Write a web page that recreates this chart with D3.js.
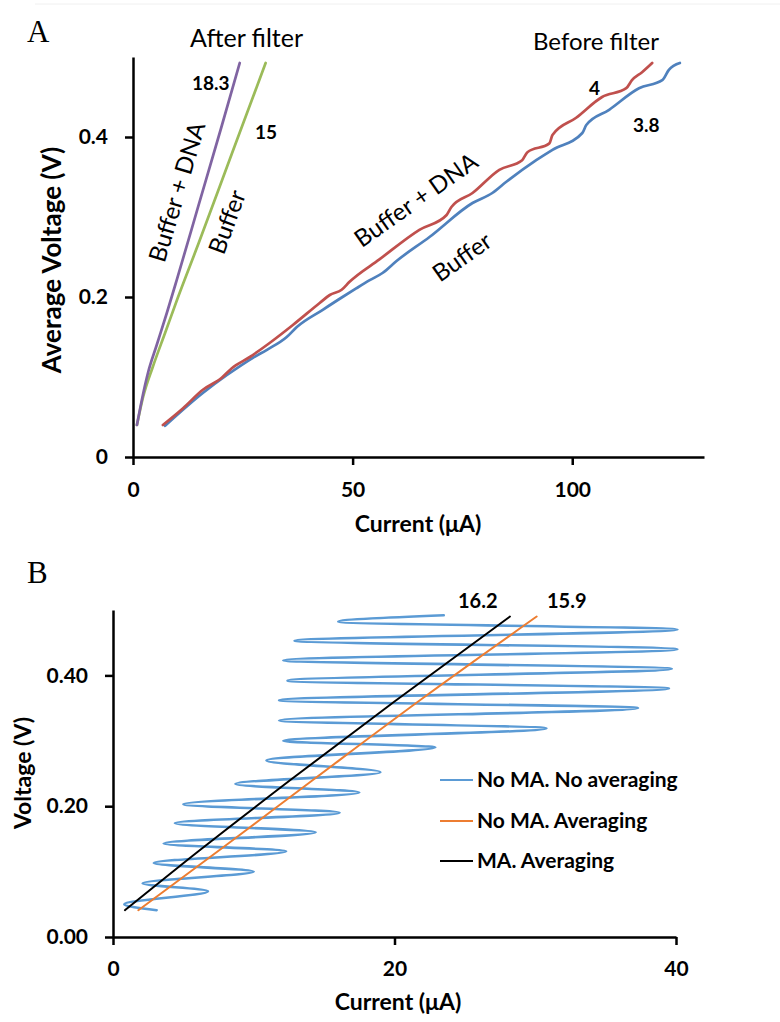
<!DOCTYPE html>
<html>
<head>
<meta charset="utf-8">
<script src="https://cdn.jsdelivr.net/npm/d3@7"></script>
<style>
  body { margin: 0; background: #fff; }
  svg { display: block; }
  text { font-family: Lato, 'Open Sans', sans-serif; fill: #000; }
  .tick text { font-weight: bold; font-size: 21px; }
  .axis path, .axis line { stroke: #000; stroke-width: 2.5; }
  .series { fill: none; stroke-linejoin: round; stroke-linecap: round; }
</style>
</head>
<body>
<div id="chart"></div>
<script>
// ---- Panel A: average voltage vs current, [current uA, voltage V]
const afterDna = [[0.9, 0.04], [2, 0.071], [3.4, 0.105], [5.4, 0.14], [7.7, 0.18],
  [10, 0.222], [15, 0.316], [20, 0.41], [24.3, 0.4925]]
const afterBuffer = [[0.9, 0.04], [2.3, 0.075], [4.5, 0.1125], [7.3, 0.155], [10.2, 0.199],
  [15, 0.268], [22.5, 0.379], [30.2, 0.4925]]
const beforeDna = [[6.8, 0.04], [11.4, 0.061], [15.9, 0.084], [20.2, 0.099], [22.5, 0.111],
  [26.6, 0.125], [31.1, 0.1425], [36.4, 0.165], [42.5, 0.1925], [44.8, 0.2025], [47.5, 0.209],
  [49.3, 0.219], [56.1, 0.247], [65.2, 0.284], [71.4, 0.3025], [72.5, 0.3125], [77.3, 0.33],
  [83.4, 0.359], [88.6, 0.371], [89.8, 0.381], [94.8, 0.392], [95.5, 0.4025], [100.9, 0.424],
  [106.8, 0.45], [112.3, 0.461], [113.6, 0.471], [115.9, 0.481], [118.2, 0.4925]]
const beforeBuffer = [[7.3, 0.039], [15.9, 0.08], [21.4, 0.1025], [27.3, 0.124], [30.5, 0.134],
  [35, 0.15], [37.3, 0.1625], [43.2, 0.184], [47.7, 0.2], [50.9, 0.211], [53.9, 0.221],
  [56.8, 0.23], [60, 0.245], [67.5, 0.275], [77.3, 0.3175], [81.8, 0.33], [85, 0.344],
  [91.8, 0.371], [95.5, 0.384], [102.3, 0.405], [103.2, 0.415], [108.4, 0.434], [115.2, 0.461],
  [120.5, 0.471], [122, 0.484], [124.5, 0.4925]]
const ticksAx = [0, 50, 100]
const ticksAy = [0, 0.2, 0.4]

// ---- Panel B: voltage vs current
const noMaNoAvg = [[3.1, 0.041], [0.8, 0.05], [6.75, 0.07], [2.1, 0.082], [10, 0.1], [2.9, 0.113],
  [12.3, 0.131], [3.6, 0.143], [14.4, 0.16], [4.4, 0.174], [16.1, 0.19], [5, 0.203], [17.5, 0.221],
  [8.7, 0.234], [19, 0.252], [10.9, 0.27], [22.9, 0.29], [12.1, 0.3], [30.8, 0.319], [11.8, 0.331],
  [37.3, 0.35], [11.8, 0.362], [39.5, 0.38], [12.4, 0.392], [39.7, 0.41], [12.1, 0.423],
  [40.1, 0.44], [12.9, 0.453], [40.1, 0.47], [16, 0.482], [23.5, 0.492]]
const noMaAvg = [[1.8, 0.041], [8, 0.14], [14.2, 0.24], [22, 0.365], [30.1, 0.49]]
const maAvg = [[0.85, 0.041], [6, 0.13], [12.6, 0.24], [20, 0.36], [28.2, 0.49]]
const legendLabels = ['No MA. No averaging', 'No MA. Averaging', 'MA. Averaging']
const ticksBx = [0, 20, 40]
const ticksBy = [0, 0.2, 0.4]

const svg = d3.select('#chart').append('svg').attr('width', 780).attr('height', 1022)

svg.append('line').attr('x1', 35).attr('x2', 780).attr('y1', 4).attr('y2', 4)
  .attr('stroke', '#f0f0f0').attr('stroke-width', 1)

// scales
const xA = d3.scaleLinear().domain([0, 130]).range([133, 704])
const yA = d3.scaleLinear().domain([0, 0.5]).range([457, 57])
const xB = d3.scaleLinear().domain([0, 40]).range([113, 676])
const yB = d3.scaleLinear().domain([0, 0.5]).range([937, 610])

const axes = function(x, y, xt, yt, yfmt, xpad) {
  svg.append('g').attr('class', 'axis')
    .attr('transform', 'translate(0,' + y.range()[0] + ')')
    .call(d3.axisBottom(x).tickValues(xt).tickSize(8).tickSizeOuter(0).tickPadding(xpad))
  svg.append('g').attr('class', 'axis')
    .attr('transform', 'translate(' + x.range()[0] + ',0)')
    .call(d3.axisLeft(y).tickValues(yt).tickSize(8).tickSizeOuter(0).tickPadding(17).tickFormat(yfmt))
  svg.selectAll('.axis text').attr('fill', '#000')
}

const line = function(x, y, curve) {
  return d3.line().x(d => x(d[0])).y(d => y(d[1])).curve(curve)
}

const label = function(txt, x, y, opts) {
  opts = opts || {}
  const t = svg.append('text').text(txt)
    .attr('font-size', opts.size || 18)
    .attr('font-weight', opts.bold ? 'bold' : 'normal')
    .attr('text-anchor', opts.anchor || 'start')
  if (opts.rotate) {
    t.attr('transform', 'translate(' + x + ',' + y + ') rotate(' + opts.rotate + ')')
      .attr('dy', '0.35em')
  } else {
    t.attr('x', x).attr('y', y)
  }
  if (opts.family) t.style('font-family', opts.family)
  return t
}

// ---------- Panel A
axes(xA, yA, ticksAx, ticksAy, d3.format(''), 17)

const seriesA = [
  { data: beforeBuffer, color: '#4F81BD' },
  { data: beforeDna, color: '#C0504D' },
  { data: afterBuffer, color: '#9BBB59' },
  { data: afterDna, color: '#8064A2' },
]
seriesA.forEach(function(s) {
  svg.append('path').attr('class', 'series')
    .attr('d', line(xA, yA, d3.curveMonotoneX)(s.data))
    .attr('stroke', s.color).attr('stroke-width', 2.7)
})

label('A', 27, 42, { size: 31, family: "'Liberation Serif', serif" })
label('After filter', 190, 47, { size: 25 })
label('Before filter', 533, 50, { size: 24 })
label('18.3', 192, 90, { bold: true, size: 19 })
label('15', 255, 139, { bold: true, size: 19 })
label('4', 589, 95, { bold: true, size: 19 })
label('3.8', 633, 132, { bold: true, size: 19 })
label('Buffer + DNA', 177, 192, { size: 24, anchor: 'middle', rotate: -73.5 })
label('Buffer', 227, 222, { size: 24, anchor: 'middle', rotate: -70 })
label('Buffer + DNA', 416, 200, { size: 24, anchor: 'middle', rotate: -35 })
label('Buffer', 462, 257, { size: 24, anchor: 'middle', rotate: -35 })
label('Average Voltage (V)', 52, 260, { size: 26, bold: true, anchor: 'middle', rotate: -90 })
label('Current (\u03bcA)', 418, 532, { size: 23, bold: true, anchor: 'middle' })

// ---------- Panel B
axes(xB, yB, ticksBx, ticksBy, d3.format('.2f'), 16)

const seriesB = [
  { data: noMaNoAvg, color: '#5B9BD5', width: 2.6, curve: d3.curveMonotoneY },
  { data: noMaAvg, color: '#ED7D31', width: 2, curve: d3.curveMonotoneX },
  { data: maAvg, color: '#000000', width: 2, curve: d3.curveMonotoneX },
]
seriesB.forEach(function(s) {
  svg.append('path').attr('class', 'series')
    .attr('d', line(xB, yB, s.curve)(s.data))
    .attr('stroke', s.color).attr('stroke-width', s.width)
})

const legend = svg.append('g').selectAll('g').data(legendLabels).enter().append('g')
  .attr('transform', (d, i) => 'translate(440,' + [780, 821, 861][i] + ')')
legend.append('line').attr('x1', 0).attr('x2', 33)
  .attr('stroke', (d, i) => seriesB[i].color).attr('stroke-width', 2)
legend.append('text').attr('x', 37).attr('dy', '0.35em')
  .attr('font-size', 21).attr('font-weight', 'bold').text(d => d)

label('B', 27, 583, { size: 31, family: "'Liberation Serif', serif" })
label('16.2', 458, 608, { bold: true, size: 20 })
label('15.9', 547, 608, { bold: true, size: 20 })
label('Voltage (V)', 23, 773, { size: 23, bold: true, anchor: 'middle', rotate: -90 })
label('Current (\u03bcA)', 398, 1010, { size: 23, bold: true, anchor: 'middle' })
</script>
</body>
</html>
